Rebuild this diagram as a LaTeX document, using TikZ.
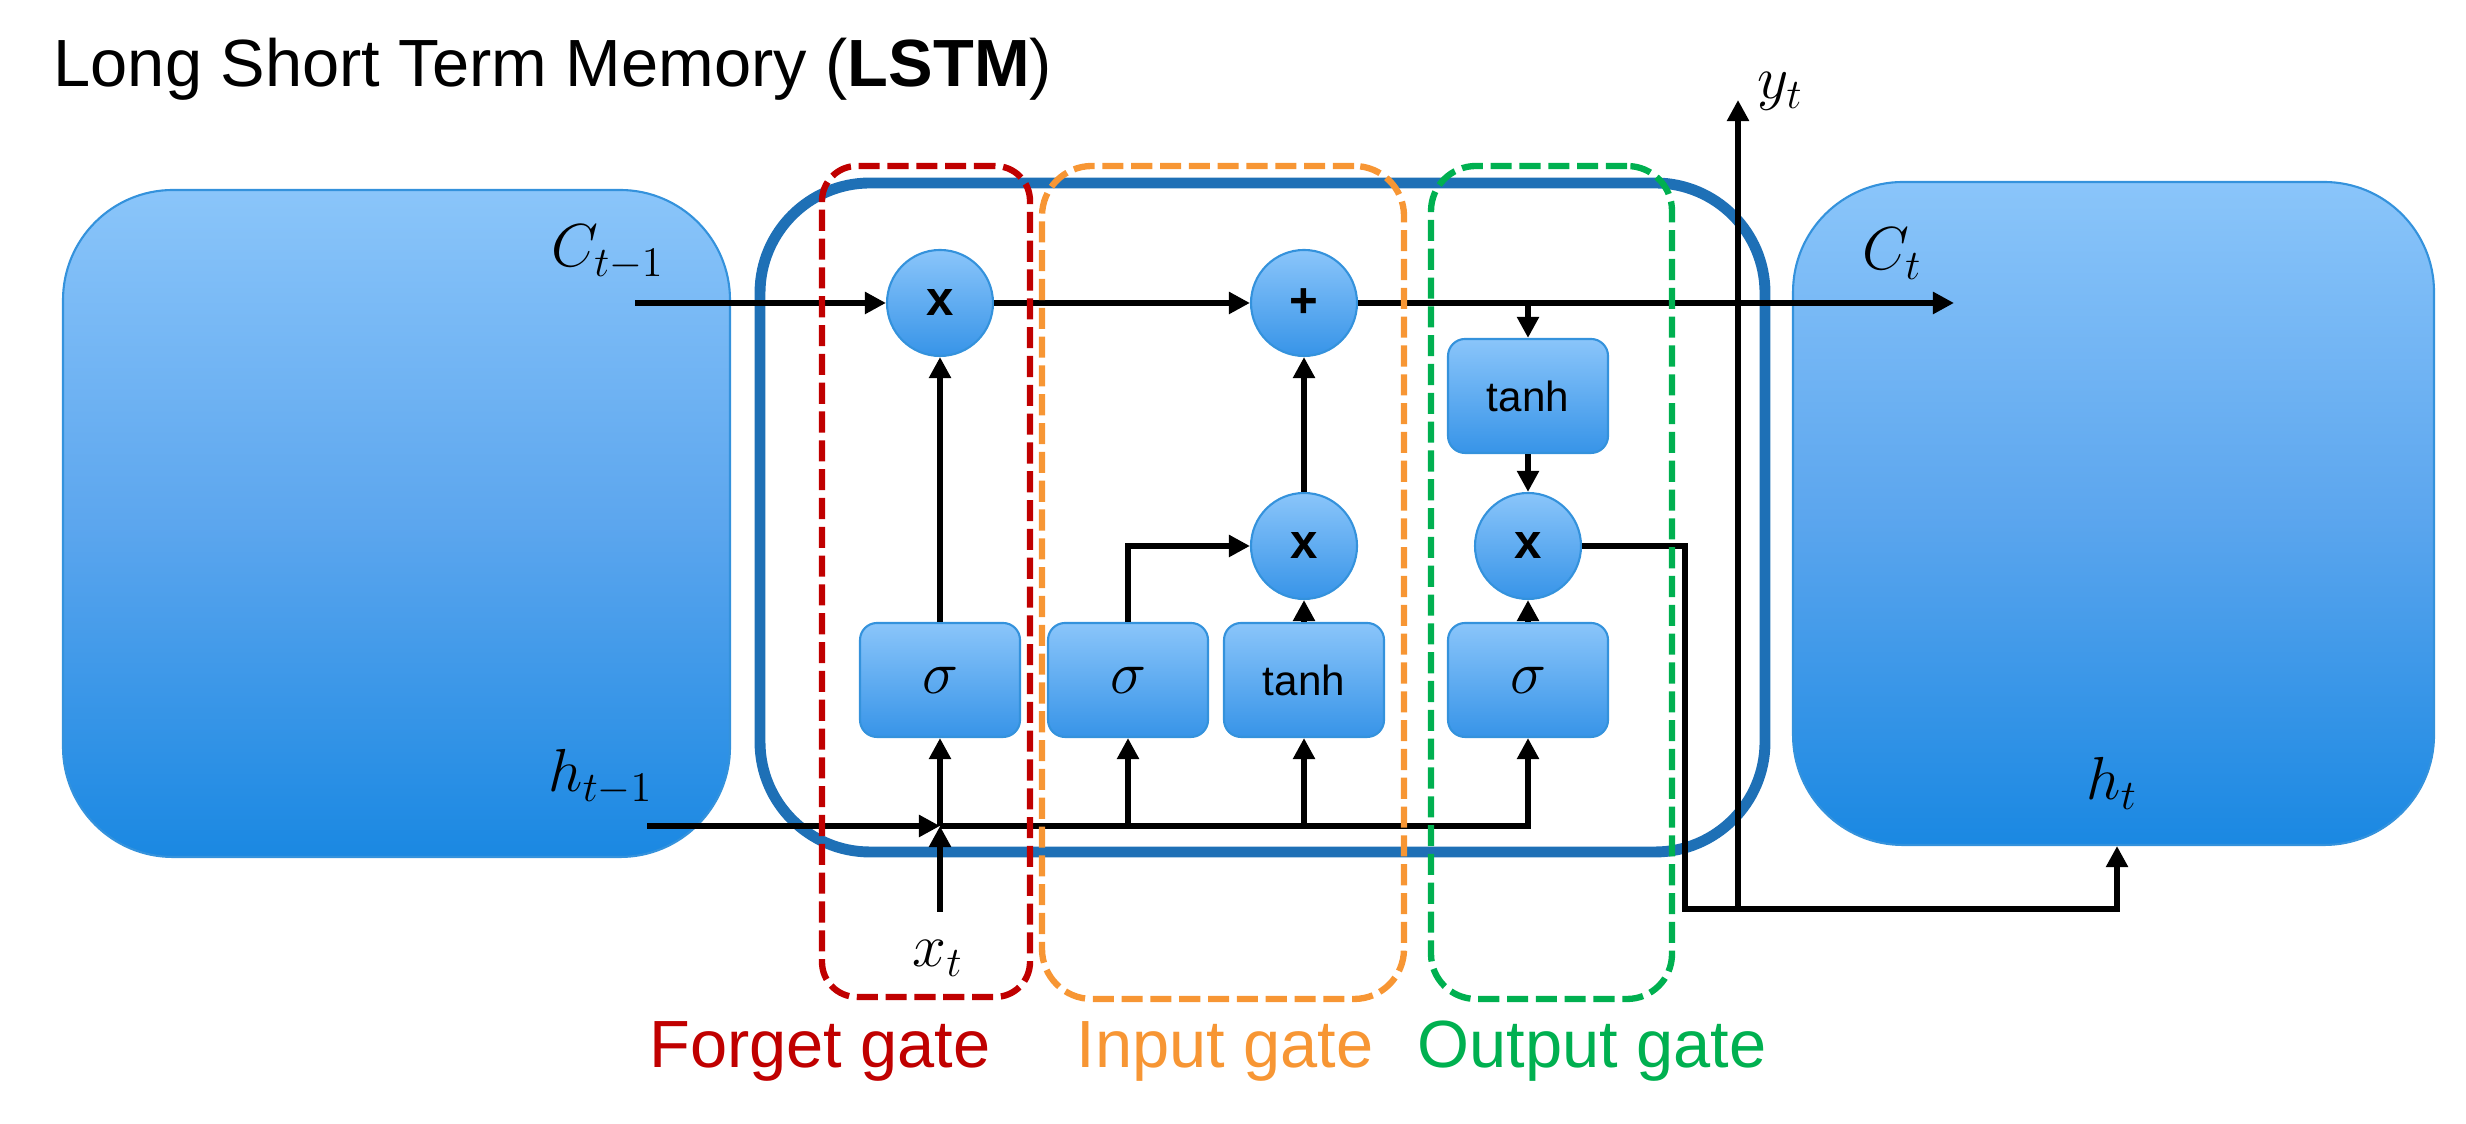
\documentclass[tikz,border=0pt]{standalone}
\usepackage{fontspec}
\setmainfont{Liberation Sans}
\usetikzlibrary{arrows.meta,positioning,calc}

\definecolor{cellblue}{RGB}{30,112,182}
\definecolor{lightfill}{RGB}{138,197,250}
\definecolor{midfill}{RGB}{92,166,238}
\definecolor{opbottom}{RGB}{55,148,232}
\definecolor{darkfill}{RGB}{26,136,226}
\definecolor{edgeblue}{RGB}{52,146,220}
\definecolor{forgetred}{RGB}{192,0,0}
\definecolor{inputorange}{RGB}{247,150,52}
\definecolor{outputgreen}{RGB}{0,176,80}

\begin{document}
\begin{tikzpicture}
  \tikzstyle{op node}=[circle,draw=edgeblue,line width=0.6pt,top color=lightfill,bottom color=opbottom,minimum size=1.06cm,inner sep=0,font=\fontsize{14}{14}\selectfont\bfseries]
  \tikzstyle{layer node}=[rectangle,rounded corners=0.17cm,draw=edgeblue,line width=0.6pt,top color=lightfill,bottom color=opbottom,minimum width=1.6cm,minimum height=1.14cm,inner sep=0,font=\fontsize{12}{12}\selectfont]
  \tikzset{
cell node/.style={rectangle,rounded corners=1.1cm,draw=edgeblue,line width=0.6pt,top color=lightfill,bottom color=darkfill,middle color=midfill,inner sep=0},
gate box/.style={rectangle,draw=#1,line width=1.8pt,dash pattern=on 6pt off 2.2pt,inner sep=0},
gate label/.style={text=#1,font=\fontsize{19}{22}\selectfont,anchor=base},
arr/.style={-{Triangle[length=6pt,width=6pt]},line width=1.6pt},
lbl/.style={anchor=base west,inner sep=0,font=\fontsize{18}{18}\selectfont},
sig/.style={font=\fontsize{19}{19}\selectfont}
}
  \useasboundingbox (0,0) rectangle (24.66,11.24);

  \node[anchor=base west,inner sep=0,font=\fontsize{19}{22}\selectfont] (title) at (0.53,10.37) {Long Short Term Memory (\textbf{LSTM})};

  % cells
  \node[cell node,minimum width=6.67cm,minimum height=6.67cm] (prev) at (3.965,6.005) {};
  \node[cell node,minimum width=6.41cm,minimum height=6.63cm] (next) at (21.135,6.105) {};
  \node[rectangle,rounded corners=1.1cm,draw=cellblue,line width=3.1pt,minimum width=10.05cm,minimum height=6.69cm,inner sep=0] (cell) at (12.625,6.065) {};

  % operations and layers
  \node[op node] (fx) at (9.40,8.21) {x};
  \node[op node] (plus) at (13.04,8.21) {+};
  \node[op node] (ix) at (13.04,5.78) {x};
  \node[op node] (ox) at (15.28,5.78) {x};
  \node[layer node] (otanh) at (15.28,7.28) {tanh};
  \node[layer node,sig] (fs) at (9.40,4.44) {$\sigma$};
  \node[layer node,sig] (is) at (11.28,4.44) {$\sigma$};
  \node[layer node] (itanh) at (13.04,4.44) {tanh};
  \node[layer node,sig] (os) at (15.28,4.44) {$\sigma$};

  \coordinate (cin) at (6.35,8.21);
  \coordinate (cout) at (19.54,8.21);
  \coordinate (hin) at (6.47,2.98);
  \coordinate (hj) at (9.40,2.98);
  \coordinate (xin) at (9.40,2.12);
  \coordinate (obend) at (16.85,2.15);
  \coordinate (ybase) at (17.38,2.15);
  \coordinate (ytop) at (17.38,10.24);
  \coordinate (hout) at (21.17,2.15);

  % cell state
  \draw[arr] (cin) -- (fx);
  \draw[arr] (fx) -- (plus);
  \draw[arr] (plus) -- (cout);
  \draw[arr] (otanh |- plus) -- (otanh);
  \draw[arr] (otanh) -- (ox);
  \draw[arr] (os) -- (ox);
  \draw[arr] (ox) -| (obend) -- (hout) -- (hout |- next.south);
  \draw[arr] (ybase) -- (ytop);

  % inputs
  \draw[arr] (hin) -- (hj);
  \draw[arr] (xin) -- (hj);
  \draw[arr] (hj) -- (fs);
  \draw[arr] (hj) -| (os);
  \draw[arr] (is |- hj) -- (is);
  \draw[arr] (itanh |- hj) -- (itanh);
  \draw[arr] (fs) -- (fx);
  \draw[arr] (itanh) -- (ix);
  \draw[arr] (ix) -- (plus);
  \draw[arr] (is) |- (ix);

  % labels
  \node[lbl] (clbl) at (5.51,8.57) {$C_{t-1}$};
  \node[lbl] (hlbl) at (5.48,3.32) {$h_{t-1}$};
  \node[lbl] (xlbl) at (9.12,1.57) {$x_t$};
  \node[lbl] (ctlbl) at (18.62,8.54) {$C_t$};
  \node[lbl] (htlbl) at (20.86,3.24) {$h_t$};
  \node[lbl] (ylbl) at (17.57,10.25) {$y_t$};

  % gates
  \node[gate box=forgetred,rounded corners=0.35cm,minimum width=2.08cm,minimum height=8.31cm] (fg) at (9.26,5.425) {};
  \node[gate box=inputorange,rounded corners=0.5cm,minimum width=3.62cm,minimum height=8.33cm] (ig) at (12.23,5.415) {};
  \node[gate box=outputgreen,rounded corners=0.45cm,minimum width=2.41cm,minimum height=8.33cm] (og) at (15.515,5.415) {};
  \node[gate label=forgetred] (fgl) at (8.20,0.56) {Forget gate};
  \node[gate label=inputorange] (igl) at (12.25,0.56) {Input gate};
  \node[gate label=outputgreen] (ogl) at (15.92,0.56) {Output gate};
\end{tikzpicture}
\end{document}
